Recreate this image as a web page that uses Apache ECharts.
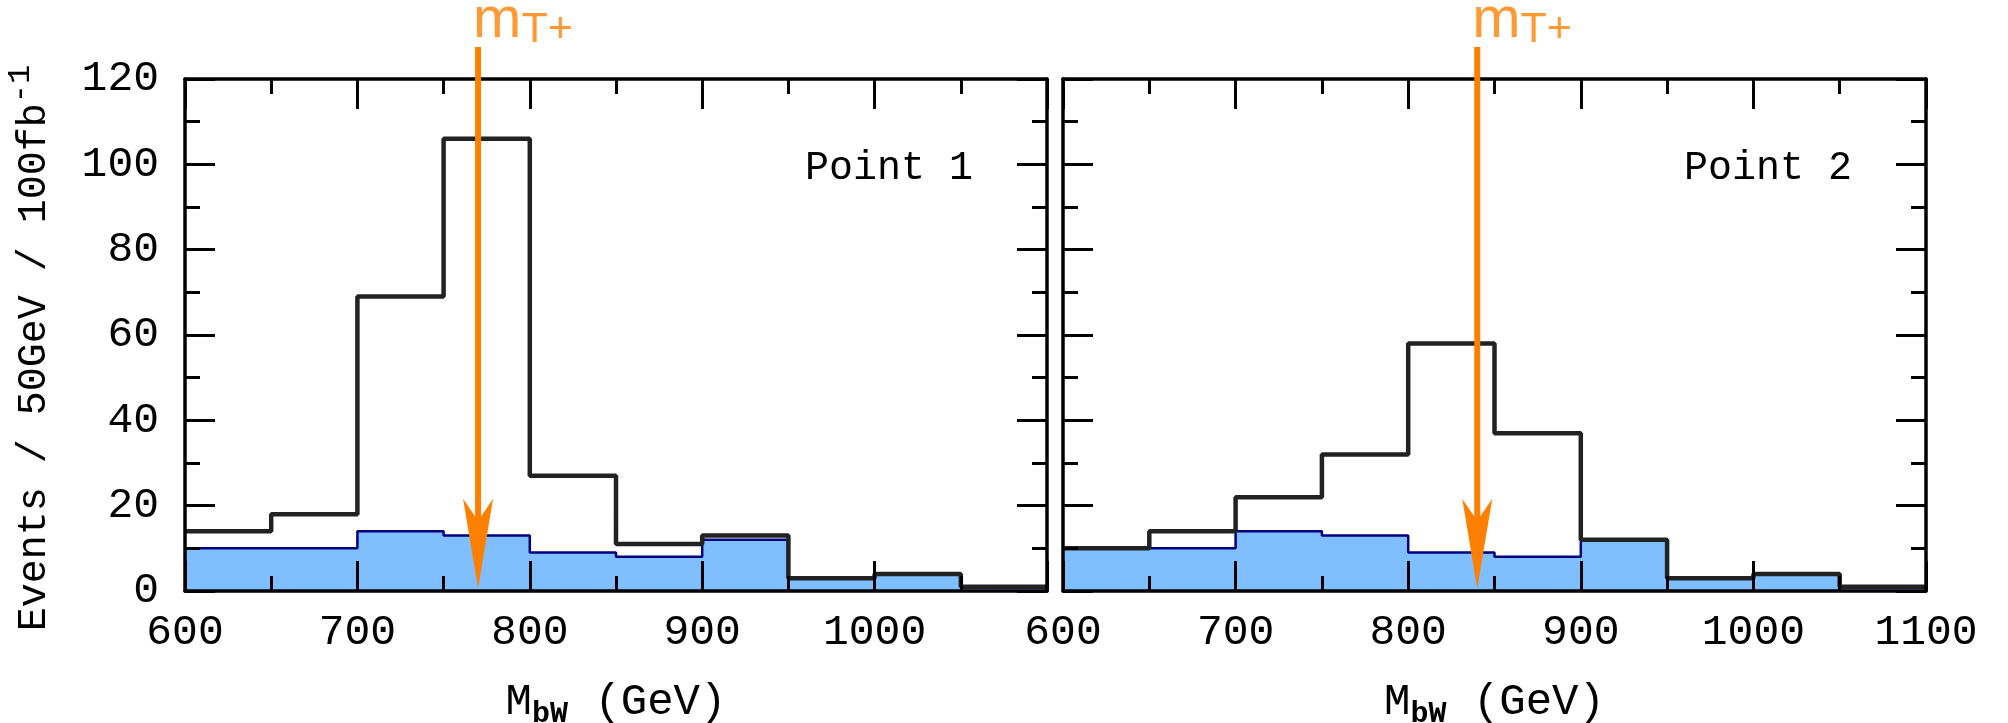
<!DOCTYPE html>
<html lang="en">
<head>
    <meta charset="UTF-8">
    <title>M_bW histograms</title>
    <script src="https://cdn.jsdelivr.net/npm/echarts@6/dist/echarts.min.js"></script>
</head>
<body style="margin:0; background:#fff;">
<div id="chart" style="width:2008px; height:723px;"></div>
<script type="text/javascript">
// bin edges in GeV (50 GeV bins)
var binEdges = [600, 650, 700, 750, 800, 850, 900, 950, 1000, 1050, 1100];
// background (blue filled), same in both panels
var background = [10, 10, 14, 13, 9, 8, 12, 3, 4, 1];
// signal + background, point 1 and point 2
var total1 = [14, 18, 69, 106, 27, 11, 13, 3, 4, 1];
var total2 = [10, 14, 22, 32, 58, 37, 12, 3, 4, 1];
// m_T+ arrow positions (GeV)
var markerMass = [770, 840];
var arrowTop = 127.5, arrowTip = 0.5, arrowStem = 12;
var panelNames = ['Point 1', 'Point 2'];
var xTicks = [600, 700, 800, 900, 1000, 1100];
var yTicks = [0, 20, 40, 60, 80, 100, 120];

var FONT = 'Liberation Mono';
var ORANGE = '#ff7f00';

// step histogram points: left edge of every bin, plus closing right edge
function stepData(vals) {
    var d = [];
    for (var i = 0; i < vals.length; i++) d.push([binEdges[i], vals[i]]);
    d.push([binEdges[binEdges.length - 1], vals[vals.length - 1]]);
    return d;
}

var chart = echarts.init(document.getElementById('chart'));

// fixed plot boxes, no auto shrinking for labels
var grids = [
    {left: 185, top: 79, width: 862, height: 512, outerBoundsMode: 'none', containLabel: false},
    {left: 1063, top: 79, width: 863, height: 512, outerBoundsMode: 'none', containLabel: false}
];

var xAxes = [], yAxes = [], series = [];
var totals = [total1, total2];

function tickOpts() {
    return {
        axisLine: {show: true, onZero: false, lineStyle: {color: '#000', width: 3.5}},
        axisTick: {show: true, inside: true, length: 30, lineStyle: {color: '#000', width: 3}},
        minorTick: {show: true, splitNumber: 2, length: 15, lineStyle: {color: '#000', width: 3}},
        splitLine: {show: false},
        z: 10
    };
}

function plain(v) { return String(v); }

for (var p = 0; p < 2; p++) {
    // bottom x
    xAxes.push(Object.assign(tickOpts(), {
        type: 'value', gridIndex: p, position: 'bottom',
        min: xTicks[0], max: xTicks[xTicks.length - 1], interval: 100,
        name: '{a|M}{s|bW}{a| (GeV)}',
        nameLocation: 'middle', nameGap: 84,
        nameTextStyle: {
            rich: {
                a: {fontFamily: FONT, fontSize: 44, color: '#000'},
                s: {fontFamily: FONT, fontSize: 30, fontWeight: 'bold', color: '#000', padding: [24, 0, 0, 0]}
            }
        },
        axisLabel: {
            show: true, margin: 20, fontFamily: FONT, fontSize: 43, color: '#000',
            showMaxLabel: p === 1, formatter: plain
        }
    }));
    // top x
    xAxes.push(Object.assign(tickOpts(), {
        type: 'value', gridIndex: p, position: 'top',
        min: xTicks[0], max: xTicks[xTicks.length - 1], interval: 100,
        axisLabel: {show: false}
    }));
    // left y
    var yl = Object.assign(tickOpts(), {
        type: 'value', gridIndex: p, position: 'left',
        min: yTicks[0], max: yTicks[yTicks.length - 1], interval: 20,
        axisLabel: {show: p === 0, margin: 26, fontFamily: FONT, fontSize: 43, color: '#000', formatter: plain}
    });
    if (p === 0) {
        yl.name = '{a|Events / 50GeV / 100fb}{s|-1}';
        yl.nameLocation = 'middle';
        yl.nameRotate = 90;
        yl.nameGap = 122;
        yl.nameTextStyle = {
            rich: {
                a: {fontFamily: FONT, fontSize: 40, color: '#000'},
                s: {fontFamily: FONT, fontSize: 32, color: '#000', padding: [0, 26, 26, 0]}
            }
        };
    }
    yAxes.push(yl);
    // right y
    yAxes.push(Object.assign(tickOpts(), {
        type: 'value', gridIndex: p, position: 'right',
        min: yTicks[0], max: yTicks[yTicks.length - 1], interval: 20,
        axisLabel: {show: false}
    }));

    var xi = p * 2, yi = p * 2;

    series.push({
        name: 'background', type: 'line', xAxisIndex: xi, yAxisIndex: yi,
        step: 'end', symbol: 'none', data: stepData(background),
        lineStyle: {color: '#000080', width: 2.5},
        areaStyle: {color: '#80bfff', opacity: 1},
        z: 2
    });
    series.push({
        name: 'total', type: 'line', xAxisIndex: xi, yAxisIndex: yi,
        step: 'end', symbol: 'none', data: stepData(totals[p]),
        lineStyle: {color: '#222', width: 4.5},
        z: 3
    });
    // arrow shaft
    series.push({
        name: 'mT', type: 'line', xAxisIndex: xi, yAxisIndex: yi, clip: false,
        symbol: 'none', data: [[markerMass[p], arrowTop], [markerMass[p], arrowStem]],
        lineStyle: {color: ORANGE, width: 6, cap: 'butt'},
        z: 20
    });
    // arrow head
    series.push({
        name: 'mThead', type: 'scatter', xAxisIndex: xi, yAxisIndex: yi, clip: false,
        symbol: 'path://M15,90 L0,0 L15,22 L30,0 Z',
        symbolSize: [30, 90], symbolOffset: [0, '-50%'],
        itemStyle: {color: ORANGE, opacity: 1},
        data: [[markerMass[p], arrowTip]],
        z: 21
    });
    // m_T+ label at the top of the shaft
    series.push({
        name: 'mTlabel', type: 'scatter', xAxisIndex: xi, yAxisIndex: yi, clip: false,
        symbol: 'circle', symbolSize: 2, itemStyle: {color: 'rgba(0,0,0,0)'},
        data: [[markerMass[p], arrowTop]],
        label: {
            show: true, position: [-4, 4], align: 'left', verticalAlign: 'bottom',
            formatter: '{m|m}{t|T+}',
            rich: {
                m: {fontFamily: 'Liberation Sans', fontSize: 58, color: ORANGE},
                t: {fontFamily: 'Liberation Sans', fontSize: 43, color: ORANGE, padding: [0, 0, -18, 0]}
            }
        },
        z: 21
    });
}

chart.setOption({
    animation: false,
    backgroundColor: '#fff',
    grid: grids,
    xAxis: xAxes,
    yAxis: yAxes,
    series: series,
    graphic: [
        {type: 'text', left: 805, top: 148, style: {text: panelNames[0], font: '40px "Liberation Mono"', fill: '#000'}},
        {type: 'text', left: 1684, top: 148, style: {text: panelNames[1], font: '40px "Liberation Mono"', fill: '#000'}}
    ]
});
</script>
</body>
</html>
